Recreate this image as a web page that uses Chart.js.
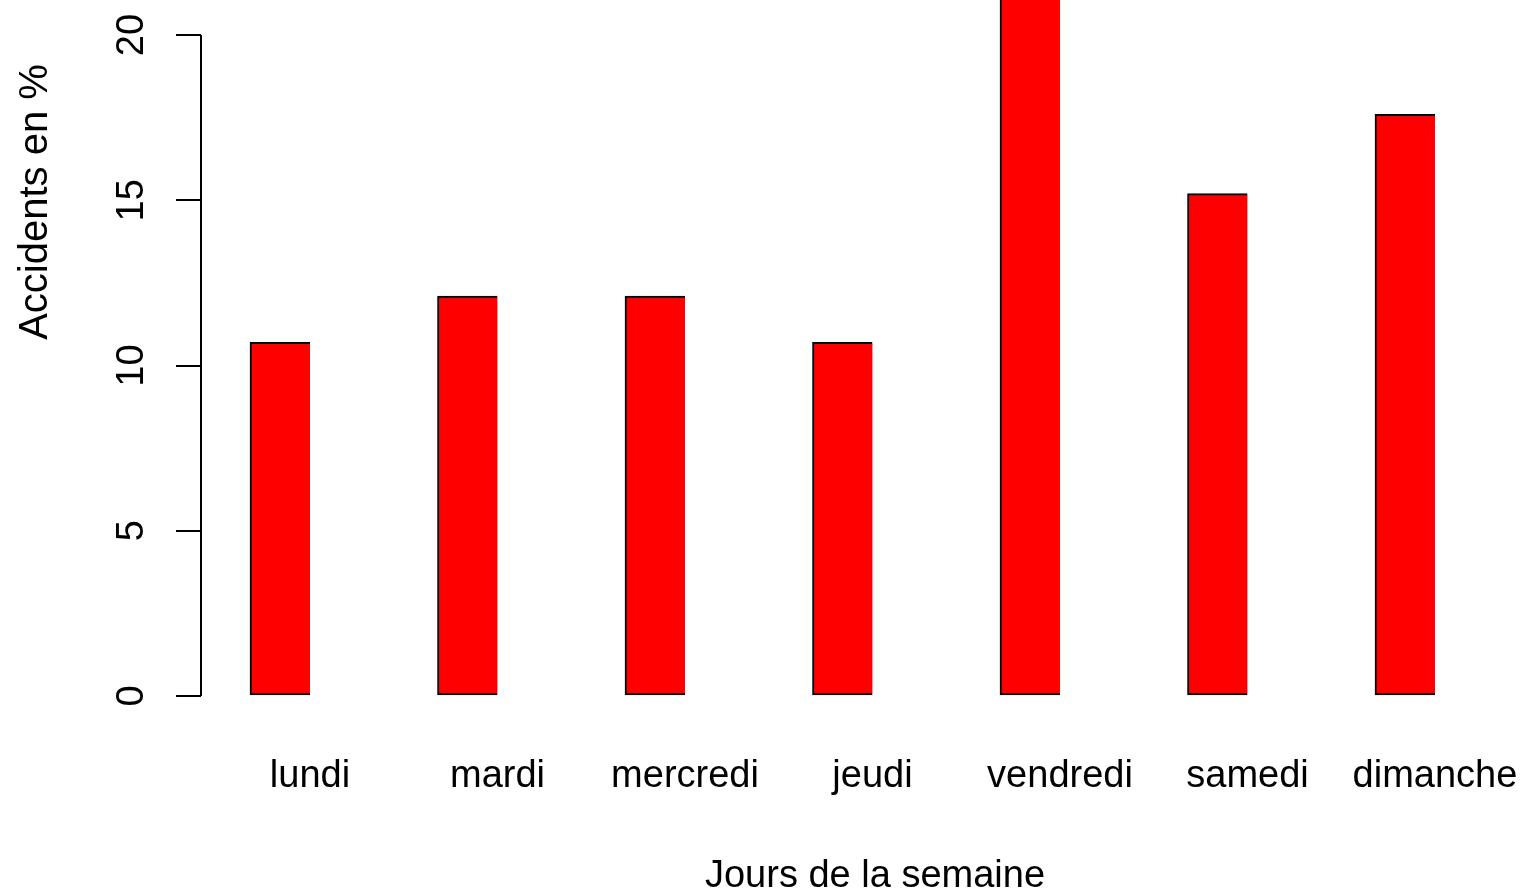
<!DOCTYPE html>
<html>
<head>
<meta charset="utf-8">
<script src="https://cdn.jsdelivr.net/npm/chart.js@4/dist/chart.umd.min.js"></script>
<style>
    body { margin: 0; background: #fff; }
    #wrap { width: 1524px; height: 896px; position: relative; }
</style>
</head>
<body>
<div id="wrap"><canvas id="chart"></canvas></div>
<script>
// données
const jours = ['lundi', 'mardi', 'mercredi', 'jeudi', 'vendredi', 'samedi', 'dimanche'];
const accidents = [10.7, 12.1, 12.1, 10.7, 21.6, 15.2, 17.6];
const yTicks = [0, 5, 10, 15, 20];
const titreX = 'Jours de la semaine';
const titreY = 'Accidents en %';

document.addEventListener('DOMContentLoaded', function() {
    const police = "'Liberation Sans', Arial, sans-serif";

    // axe y (trait de 0 a 20) et titres des axes
    const axesPlugin = {
        id: 'axesR',
        afterDraw(chart) {
            const ctx = chart.ctx;
            const y = chart.scales.y;
            const left = chart.chartArea.left;
            ctx.save();
            ctx.strokeStyle = '#000';
            ctx.lineWidth = 2;
            ctx.beginPath();
            ctx.moveTo(left, y.getPixelForValue(yTicks[0]));
            ctx.lineTo(left, y.getPixelForValue(yTicks[yTicks.length - 1]));
            ctx.stroke();

            ctx.fillStyle = '#000';
            ctx.font = '38px ' + police;
            ctx.textAlign = 'center';
            ctx.textBaseline = 'alphabetic';
            ctx.fillText(titreX, 875, 887);

            ctx.translate(47, 202);
            ctx.rotate(-Math.PI / 2);
            ctx.font = '40px ' + police;
            ctx.fillText(titreY, 0, 0);
            ctx.restore();
        }
    };

    const ctx = document.getElementById('chart').getContext('2d');
    new Chart(ctx, {
        type: 'bar',
        data: {
            datasets: [{
                data: accidents.map((v, i) => ({ x: i, y: v })),
                backgroundColor: '#ff0000',
                borderColor: '#000',
                borderWidth: { top: 2, left: 2, bottom: 2, right: 0 },
                borderSkipped: false,
                barThickness: 60
            }]
        },
        options: {
            responsive: true,
            maintainAspectRatio: false,
            animation: false,
            layout: { padding: 0 },
            plugins: {
                legend: { display: false },
                tooltip: { enabled: false }
            },
            scales: {
                x: {
                    type: 'linear',
                    offset: false,
                    min: -0.4213,
                    max: 6.6347,
                    grid: { display: false, offset: false },
                    border: { display: false },
                    afterBuildTicks: function(scale) {
                        scale.ticks = jours.map((j, i) => ({ value: i + 0.16 }));
                    },
                    afterFit: function(scale) {
                        scale.height = 200;
                        scale.paddingLeft = 0;
                        scale.paddingRight = 0;
                    },
                    ticks: {
                        autoSkip: false,
                        maxRotation: 0,
                        padding: 50,
                        color: '#000',
                        font: { family: police, size: 38 },
                        callback: function(v, idx) { return jours[idx]; }
                    }
                },
                y: {
                    min: 0,
                    max: 21.06,
                    afterBuildTicks: function(scale) {
                        scale.ticks = yTicks.map(v => ({ value: v }));
                    },
                    afterFit: function(scale) {
                        scale.width = 201;
                        scale.paddingTop = 0;
                        scale.paddingBottom = 0;
                    },
                    border: { display: false },
                    grid: {
                        drawOnChartArea: false,
                        drawTicks: true,
                        tickLength: 25,
                        color: '#000',
                        lineWidth: 2
                    },
                    ticks: {
                        minRotation: 90,
                        maxRotation: 90,
                        crossAlign: 'center',
                        padding: 22,
                        color: '#000',
                        font: { family: police, size: 38 }
                    }
                }
            }
        },
        plugins: [axesPlugin]
    });
});
</script>
</body>
</html>
